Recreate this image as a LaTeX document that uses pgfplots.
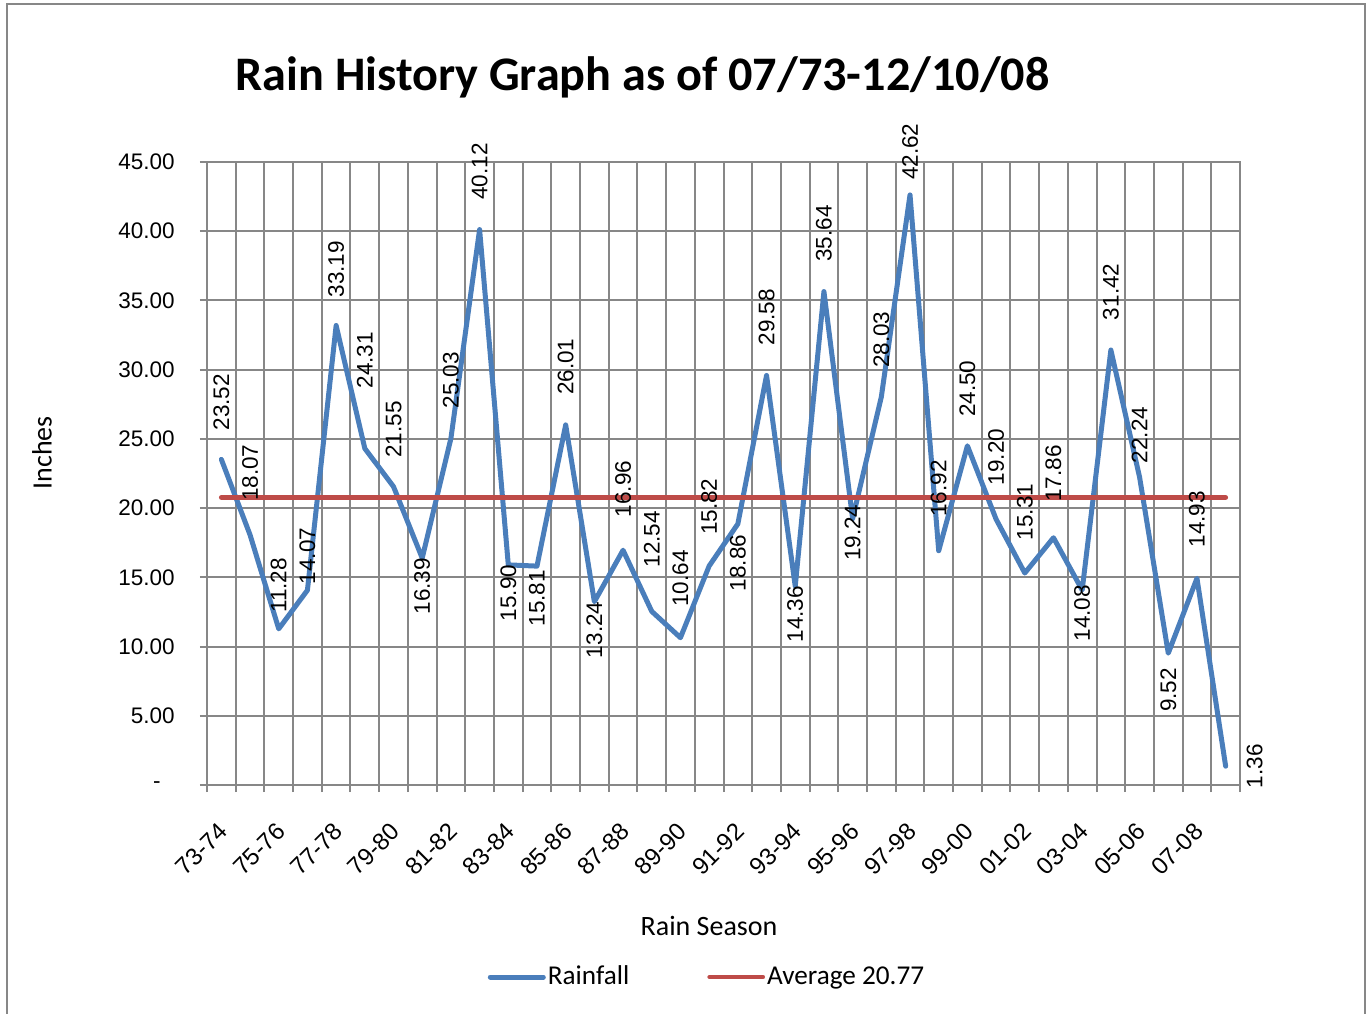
\documentclass[border=0pt]{standalone}
\usepackage{pgfplots}
\pgfplotsset{compat=1.18}
\usepackage{pgfplotstable}
\usepackage{fontspec}
\setmainfont{Carlito}
\newfontfamily\numfont{Liberation Sans}
\definecolor{rainblue}{HTML}{4A7EBB}
\definecolor{avgred}{HTML}{BE4B48}
\definecolor{gridgray}{HTML}{878787}

\begin{document}
\begin{tikzpicture}
\useasboundingbox (0,0) rectangle (684.5pt,506.5pt);
\draw[gridgray, line width=1.25pt] (3.5pt,-2pt) -- (3.5pt,504.5pt) -- (682.5pt,504.5pt) -- (682.5pt,-2pt);
\node[anchor=base, font=\bfseries\fontsize{24.1}{28}\selectfont] at (321.25pt,461pt) {Rain History Graph as of 07/73-12/10/08};
\begin{axis}[
  at={(103.5pt,114pt)}, anchor=south west,
  scale only axis, width=516.5pt, height=311.5pt,
  xmin=0.5, xmax=36.5, ymin=0, ymax=45,
  clip=false,
  axis line style={gridgray, line width=1pt},
  grid style={gridgray, line width=1pt},
  xmajorgrids, ymajorgrids,
  xtick={0.5,1.5,...,36.5}, xticklabels={},
  ytick={0,5,...,45},
  yticklabels={{-\kern7pt},5.00,10.00,15.00,20.00,25.00,30.00,35.00,40.00,45.00},
  tick align=outside, major tick length=3.5pt,
  xtick pos=left, ytick pos=left,
  tick style={gridgray, line width=1pt},
  yticklabel style={font=\numfont\fontsize{11.25}{13}\selectfont, anchor=east, inner sep=0pt, xshift=-12.5pt},
  extra x ticks={1,3,...,35},
  extra x tick labels={73-74,75-76,77-78,79-80,81-82,83-84,85-86,87-88,89-90,91-92,93-94,95-96,97-98,99-00,01-02,03-04,05-06,07-08},
  extra x tick style={major tick length=0pt, grid=none, xticklabel style={font=\numfont\fontsize{12}{14}\selectfont, anchor=north east, inner sep=0pt, yshift=-18pt, xshift=-2pt, rotate=45}},
  xlabel={Rain Season},
  xlabel style={at={(0.486,-0.2408)}, anchor=base, font=\fontsize{14}{16}\selectfont},
  ylabel={Inches},
  ylabel style={at={(-0.1597,0.533)}, anchor=center, font=\fontsize{14}{16}\selectfont},
  legend style={draw=none, fill=none, at={(0.484,-0.3082)}, anchor=center, legend columns=2, font=\fontsize{13.6}{16}\selectfont, /tikz/every even column/.append style={column sep=38pt}, nodes={inner sep=1pt}},
  legend image code/.code={\draw[#1, line cap=round] (0pt,0pt) -- (26.5pt,0pt);},
]
\addplot[rainblue, line width=2.5pt, line join=round, line cap=round] table[x=x,y=y] {
x y
1 23.52
2 18.07
3 11.28
4 14.07
5 33.19
6 24.31
7 21.55
8 16.39
9 25.03
10 40.12
11 15.90
12 15.81
13 26.01
14 13.24
15 16.96
16 12.54
17 10.64
18 15.82
19 18.86
20 29.58
21 14.36
22 35.64
23 19.24
24 28.03
25 42.62
26 16.92
27 24.50
28 19.20
29 15.31
30 17.86
31 14.08
32 31.42
33 22.24
34 9.52
35 14.93
36 1.36
};
\addlegendentry{Rainfall}
\addplot[avgred, line width=2.4pt, line cap=round] coordinates {(1,20.77) (36,20.77)};
\addlegendentry{Average 20.77}
\addplot[draw=none, forget plot,
  point meta=y,
  nodes near coords={\pgfmathprintnumber[fixed,fixed zerofill,precision=2,assume math mode=true]{\pgfplotspointmeta}},
  visualization depends on={value \thisrow{anc}\as\myanc},
  visualization depends on={\thisrow{off}\as\myoff},
  every node near coord/.style={text=black, font=\numfont\fontsize{11.25}{13}\selectfont, rotate=90, inner sep=0pt, anchor=\myanc, outer xsep=\myoff pt, outer ysep=\myoff pt},
] table[x=x,y=y] {
x y anc off
1 23.52 west 14.5
2 18.07 west 17
3 11.28 west 8
4 14.07 west 3
5 33.19 west 14
6 24.31 west 30
7 21.55 west 14.5
8 16.39 east 0
9 25.03 west 15
10 40.12 west 15
11 15.90 east 0
12 15.81 east 2
13 26.01 west 15
14 13.24 east 0
15 16.96 west 16.5
16 12.54 west 22
17 10.64 west 15.5
18 15.82 west 15.5
19 18.86 east 5.5
20 29.58 west 15
21 14.36 east 0
22 35.64 west 15
23 19.24 east -7
24 28.03 west 14.5
25 42.62 west 7.5
26 16.92 west 17
27 24.50 west 14.5
28 19.20 west 17
29 15.31 west 16.5
30 17.86 west 18
31 14.08 east -2.5
32 31.42 west 15
33 22.24 west 7
34 9.52 east 7.5
35 14.93 west 15.5
36 1.36 north 10.5
};
\end{axis}
\end{tikzpicture}
\end{document}
